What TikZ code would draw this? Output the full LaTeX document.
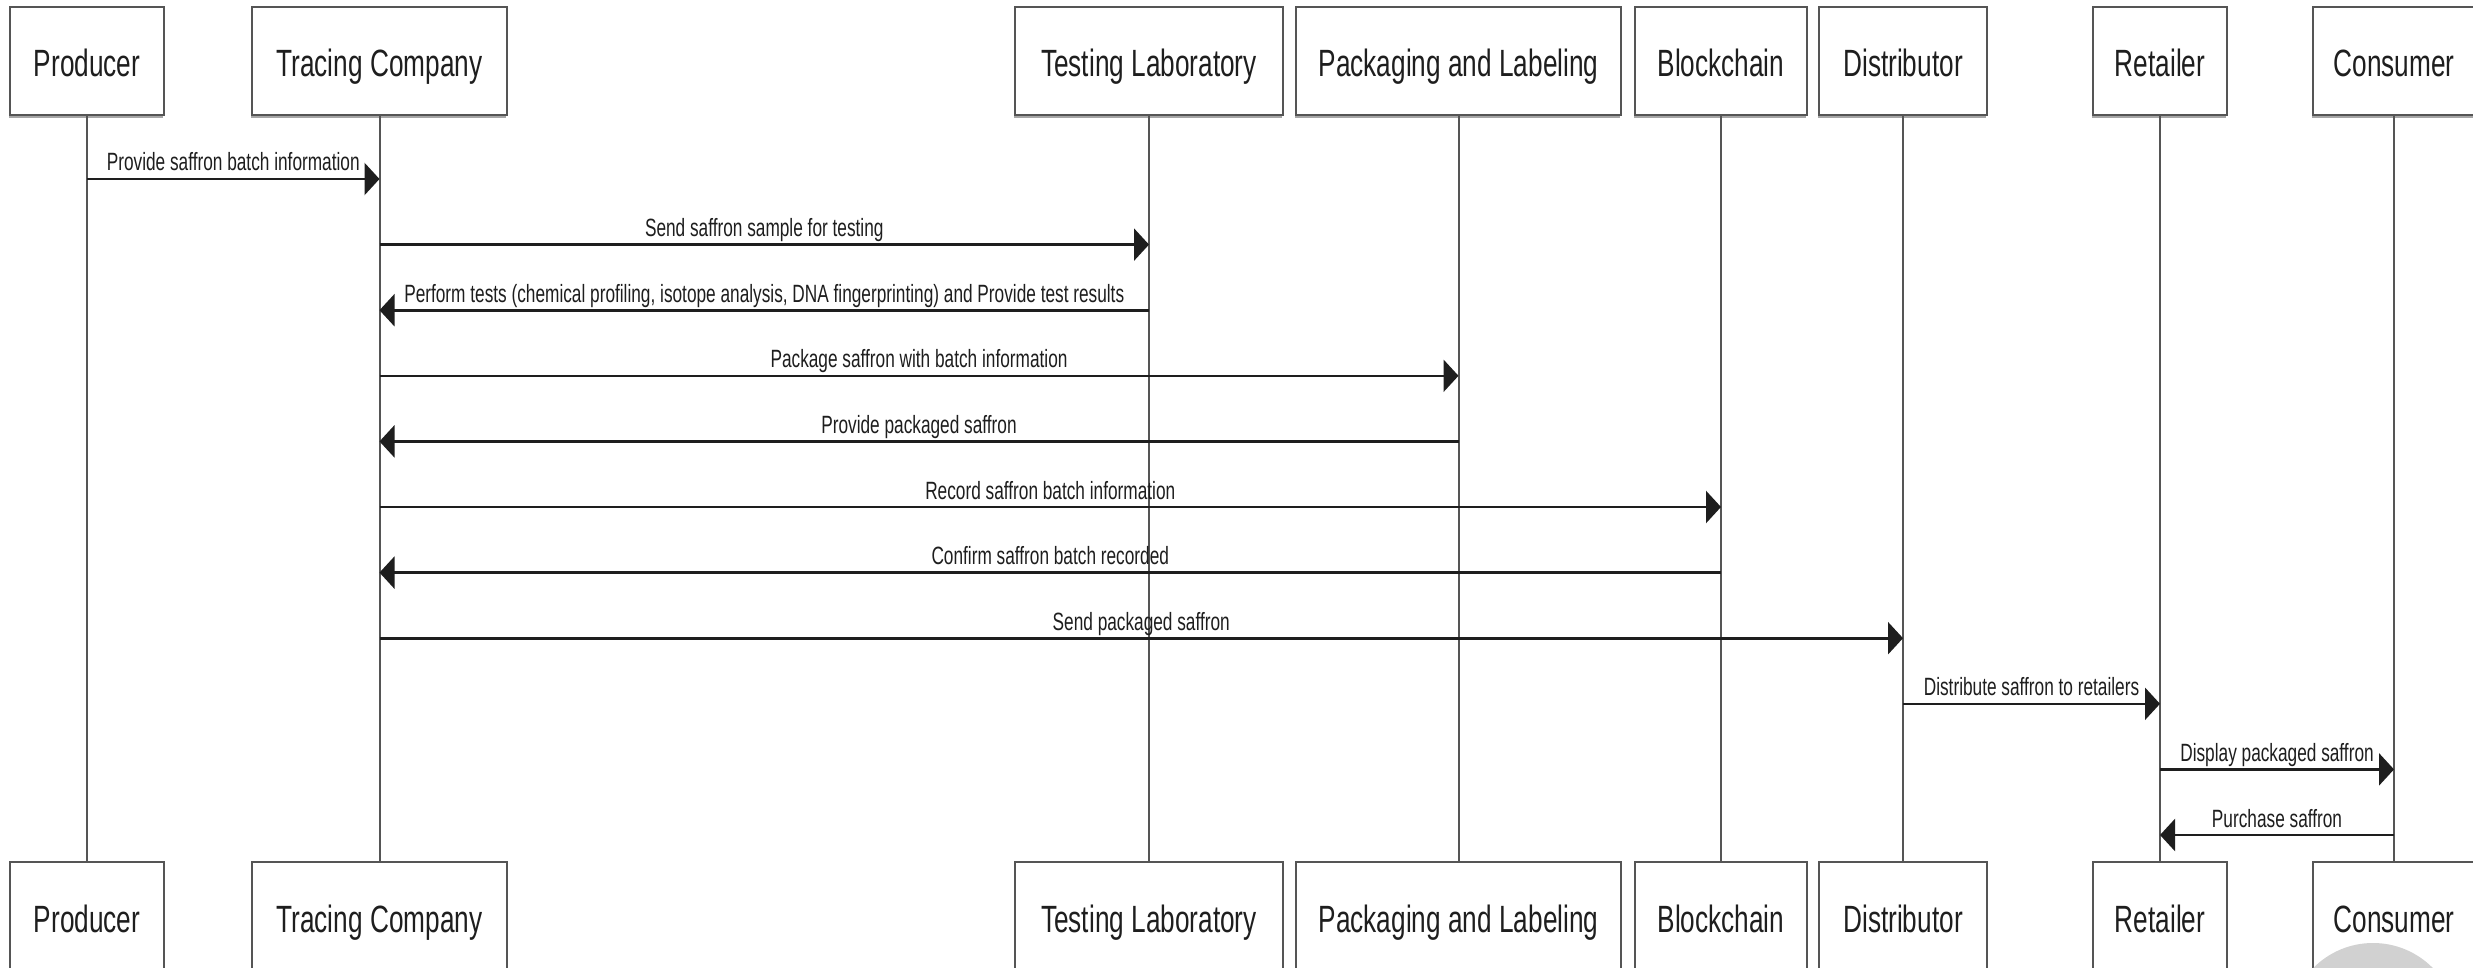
\documentclass[tikz,border=0pt]{standalone}
\usepackage{fontspec}
\setmainfont{Liberation Sans}
\newfontfamily\narrowsans[FakeStretch=0.69]{Liberation Sans}
\usetikzlibrary{arrows.meta,shadows}

\definecolor{inkgray}{HTML}{1E1E1E}
\definecolor{edgegray}{HTML}{555555}

\tikzset{
  actor/.style={draw=edgegray, line width=2.2pt, fill=white,
    minimum height=108pt, inner sep=0pt, text=inkgray,
    text height=32pt, text depth=0pt,
    font=\narrowsans\fontsize{38}{44}\selectfont,
    drop shadow={shadow xshift=-1.5pt, shadow yshift=-3pt, fill=black!35, opacity=1}},
  lifeline/.style={draw=edgegray, line width=2pt},
  msg/.style={draw=inkgray, line width=2.6pt,
    -{Triangle[length=15pt,width=32pt]}},
  lbl/.style={anchor=base, yshift=8pt, inner sep=0pt, text=inkgray,
    font=\narrowsans\fontsize{25}{30}\selectfont},
}

\begin{document}
\begin{tikzpicture}[x=1pt, y=-1pt]
  \useasboundingbox (0,0) rectangle (2473,968);
  \fill[white] (0,0) rectangle (2473,968);

  % participant heads
  \node[actor, minimum width=154pt] (prodT) at (87,61)    {Producer};
  \node[actor, minimum width=255pt] (tracT) at (379.5,61) {Tracing Company};
  \node[actor, minimum width=268pt] (testT) at (1149,61)  {Testing Laboratory};
  \node[actor, minimum width=325pt] (packT) at (1458.5,61){Packaging and Labeling};
  \node[actor, minimum width=172pt] (blokT) at (1721,61)  {Blockchain};
  \node[actor, minimum width=168pt] (distT) at (1903,61)  {Distributor};
  \node[actor, minimum width=134pt] (retT)  at (2160,61)  {Retailer};
  \node[actor, minimum width=162pt] (consT) at (2394,61)  {Consumer};

  % participant feet
  \node[actor, minimum width=154pt] (prodB) at (87,916)    {Producer};
  \node[actor, minimum width=255pt] (tracB) at (379.5,916) {Tracing Company};
  \node[actor, minimum width=268pt] (testB) at (1149,916)  {Testing Laboratory};
  \node[actor, minimum width=325pt] (packB) at (1458.5,916){Packaging and Labeling};
  \node[actor, minimum width=172pt] (blokB) at (1721,916)  {Blockchain};
  \node[actor, minimum width=168pt] (distB) at (1903,916)  {Distributor};
  \node[actor, minimum width=134pt] (retB)  at (2160,916)  {Retailer};
  \node[actor, minimum width=162pt] (consB) at (2394,916)  {Consumer};

  % lifelines
  \foreach \p in {prod,trac,test,pack,blok,dist,ret,cons}
    \draw[lifeline] (\p T.south) -- (\p B.north);

  % message rows
  \coordinate (r1)  at (0,179);
  \coordinate (r2)  at (0,244.6);
  \coordinate (r3)  at (0,310.2);
  \coordinate (r4)  at (0,375.8);
  \coordinate (r5)  at (0,441.4);
  \coordinate (r6)  at (0,507);
  \coordinate (r7)  at (0,572.6);
  \coordinate (r8)  at (0,638.2);
  \coordinate (r9)  at (0,703.8);
  \coordinate (r10) at (0,769.4);
  \coordinate (r11) at (0,835);

  % messages
  \draw[msg] (prodT |- r1)  -- node[lbl]{Provide saffron batch information} (tracT |- r1);
  \draw[msg] (tracT |- r2)  -- node[lbl]{Send saffron sample for testing} (testT |- r2);
  \draw[msg] (testT |- r3)  -- node[lbl]{Perform tests (chemical profiling, isotope analysis, DNA fingerprinting) and Provide test results} (tracT |- r3);
  \draw[msg] (tracT |- r4)  -- node[lbl]{Package saffron with batch information} (packT |- r4);
  \draw[msg] (packT |- r5)  -- node[lbl]{Provide packaged saffron} (tracT |- r5);
  \draw[msg] (tracT |- r6)  -- node[lbl]{Record saffron batch information} (blokT |- r6);
  \draw[msg] (blokT |- r7)  -- node[lbl]{Confirm saffron batch recorded} (tracT |- r7);
  \draw[msg] (tracT |- r8)  -- node[lbl]{Send packaged saffron} (distT |- r8);
  \draw[msg] (distT |- r9)  -- node[lbl]{Distribute saffron to retailers} (retT |- r9);
  \draw[msg] (retT |- r10)  -- node[lbl]{Display packaged saffron} (consT |- r10);
  \draw[msg] (consT |- r11) -- node[lbl]{Purchase saffron} (retT |- r11);

  % grey disc in the lower right corner
  \fill[black!18] (2373,1027) circle[radius=84];
\end{tikzpicture}
\end{document}
